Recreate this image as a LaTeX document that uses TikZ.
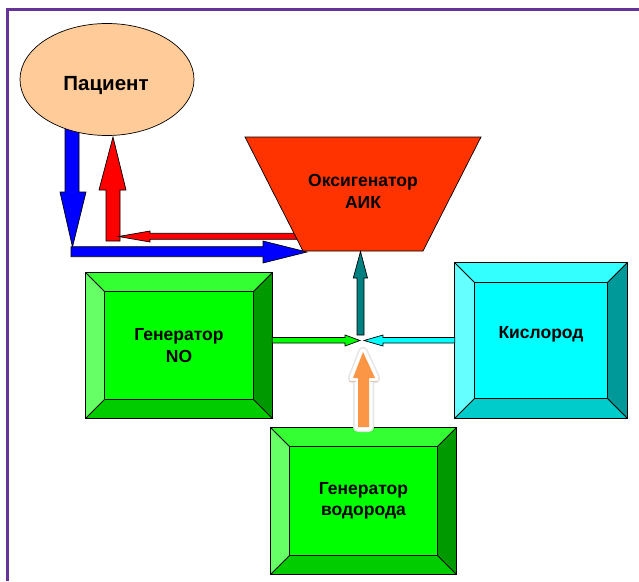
\documentclass[tikz,border=0pt]{standalone}
\usepackage{fontspec}
\setmainfont{Liberation Sans}
\usetikzlibrary{calc,backgrounds,shapes.geometric}
\definecolor{frame}{RGB}{102,51,153}
\definecolor{peach}{RGB}{255,204,153}
\definecolor{oxyred}{RGB}{255,51,0}
\definecolor{teal2}{RGB}{0,128,128}
\definecolor{orng}{RGB}{250,150,70}
\definecolor{gT}{RGB}{51,255,51}
\definecolor{gL}{RGB}{102,255,102}
\definecolor{gR}{RGB}{0,153,0}
\definecolor{gB}{RGB}{0,204,0}
\definecolor{gC}{RGB}{0,255,0}
\definecolor{cT}{RGB}{51,255,255}
\definecolor{cL}{RGB}{102,255,255}
\definecolor{cR}{RGB}{0,153,153}
\definecolor{cB}{RGB}{0,204,204}
\definecolor{cC}{RGB}{0,255,255}
\newcommand\bevelbox[3]{%
  \fill[#3C] (#1.north west) rectangle (#1.south east);
  \fill[#3T] (#1.north west) -- (#1.north east) -- ($(#1.north east)+(-#2,#2)$) -- ($(#1.north west)+(#2,#2)$) -- cycle;
  \fill[#3L] (#1.north west) -- ($(#1.north west)+(#2,#2)$) -- ($(#1.south west)+(#2,-#2)$) -- (#1.south west) -- cycle;
  \fill[#3R] (#1.north east) -- ($(#1.north east)+(-#2,#2)$) -- ($(#1.south east)+(-#2,-#2)$) -- (#1.south east) -- cycle;
  \fill[#3B] (#1.south west) -- ($(#1.south west)+(#2,-#2)$) -- ($(#1.south east)+(-#2,-#2)$) -- (#1.south east) -- cycle;
  \draw[edge] (#1.north west) rectangle (#1.south east);
  \draw[edge] ($(#1.north west)+(#2,#2)$) rectangle ($(#1.south east)+(-#2,-#2)$);
  \draw[edge] (#1.north west) -- ++(#2,#2);
  \draw[edge] (#1.north east) -- ++(-#2,#2);
  \draw[edge] (#1.south west) -- ++(#2,-#2);
  \draw[edge] (#1.south east) -- ++(-#2,-#2);
}
\begin{document}
\begin{tikzpicture}[x=1pt,y=-1pt,
  edge/.style={draw=black,line width=0.8pt},
  lbl/.style={font=\bfseries\fontsize{17.5}{22}\selectfont,align=center,text=black,inner sep=0pt},
  outl/.style={draw=black,line width=0.7pt,line join=miter}]
\useasboundingbox (0,0) rectangle (639,581);
\draw[frame,line width=3pt] (7,581) -- (7,9.5) -- (639,9.5);

% boxes
\node[lbl,minimum width=186pt,minimum height=145pt] (no) at (179,345.5) {Генератор\\NO};
\node[minimum width=172pt,minimum height=155pt,inner sep=0pt] (oxg) at (541,340.5) {};
\node[lbl] (oxgl) at (541,334) {Кислород};
\node[lbl,minimum width=185pt,minimum height=146pt] (hyd) at (363.5,501) {\raisebox{3pt}{\begin{tabular}{@{}c@{}}Генератор\\[-1pt]водорода\end{tabular}}};
\begin{scope}[on background layer]
  \fill[white] (0,0) rectangle (639,581);
  \bevelbox{no}{18.5}{g}
  \bevelbox{oxg}{20}{c}
  \bevelbox{hyd}{18.5}{g}
\end{scope}

% blue arrows
\filldraw[fill=blue,outl] (65,110) -- (79,110) -- (79,192) -- (86,192) -- (72.5,247) -- (60,192) -- (65,192) -- cycle;
\filldraw[fill=blue,outl] (71,246.7) -- (263,246.7) -- (263,241) -- (307,252) -- (263,263) -- (263,256.7) -- (71,256.7) -- cycle;

% patient
\node[ellipse,draw=black,line width=0.7pt,fill=peach,minimum width=174pt,minimum height=112pt,inner sep=0pt] (pat) at (107,79.5) {};
\node[lbl,font=\bfseries\fontsize{20.5}{24}\selectfont] (patl) at (106,85) {Пациент};

% red arrows
\filldraw[fill=red,outl] (106,241) -- (106,190) -- (99,190) -- (113,137) -- (126,190) -- (120,190) -- (120,241) -- cycle;
\filldraw[fill=red,outl] (300,233.3) -- (150,233.3) -- (150,231) -- (118.5,236.5) -- (150,242) -- (150,239.3) -- (300,239.3) -- cycle;

% oxygenator
\filldraw[fill=oxyred,draw=black,line width=0.7pt] (245,137) -- (481,137) -- (423,251) -- (303,251) -- cycle;
\node[lbl] (oxy) at (363,191) {Оксигенатор\\АИК};

% mixing point
\coordinate (mix) at (361,340.5);
% teal
\filldraw[fill=teal2,outl] (357,335) -- (357,278) -- (353.3,278) -- (360.5,251.5) -- (367.5,278) -- (364,278) -- (364,335) -- cycle;
% green
\filldraw[fill=gC,outl] (no.east |- 0,337.5) -- (345,337.5) -- (345,335) -- (360,340.5) -- (345,346) -- (345,343) -- (no.east |- 0,343) -- cycle;
% cyan
\filldraw[fill=cC,outl] (oxg.west |- 0,337.5) -- (383,337.5) -- (383,335) -- (364,340.5) -- (383,346) -- (383,343) -- (oxg.west |- 0,343) -- cycle;

% orange arrow with glow
\def\orpath{(358,427) -- (358,378) -- (353,378) -- (363,352) -- (375,378) -- (369,378) -- (369,427) -- cycle}
\draw[gray!20,line width=10pt,line join=round] \orpath;
\draw[white,line width=7pt,line join=round] \orpath;
\draw[brown!45,line width=1pt] (349,381) -- (356,381);
\draw[brown!45,line width=1pt] (370,381) -- (378,381);
\fill[orng] \orpath;
\end{tikzpicture}
\end{document}
